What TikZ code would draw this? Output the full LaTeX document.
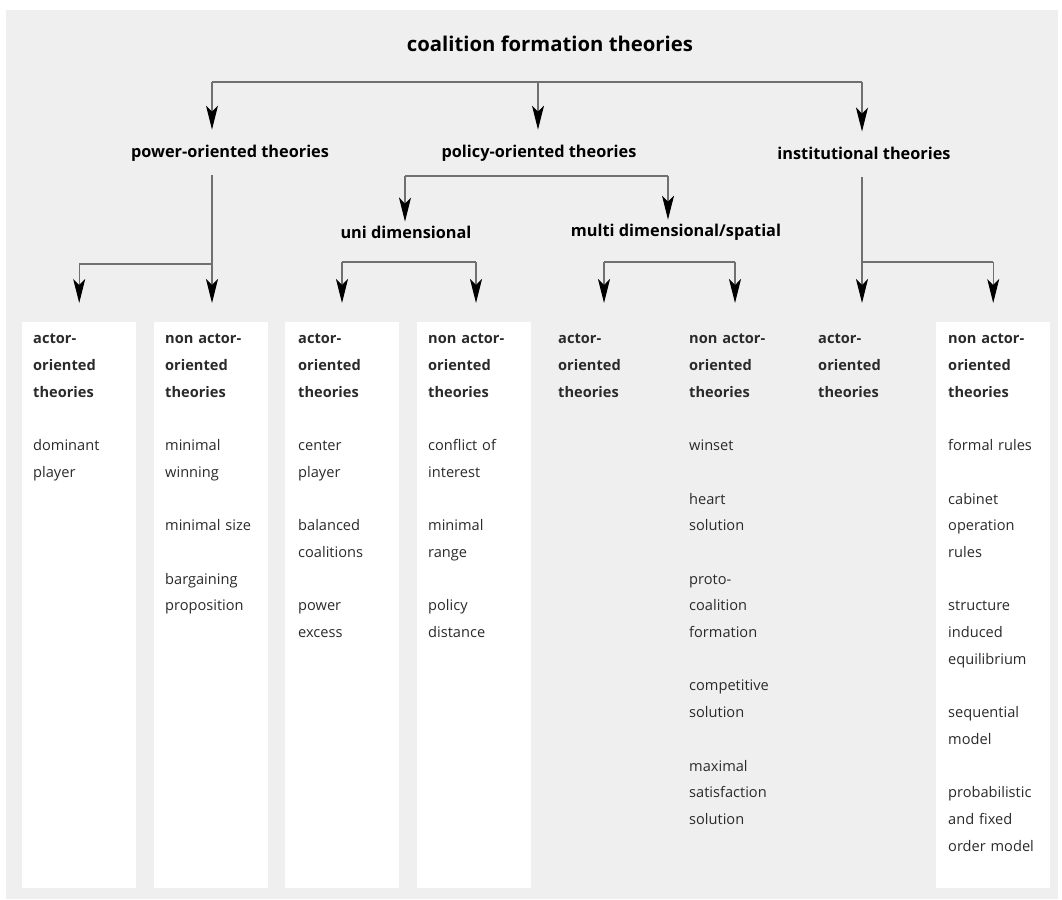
\documentclass[tikz,border=0pt]{standalone}
\usepackage{fontspec}
\setmainfont{Open Sans}
\usetikzlibrary{arrows.meta,calc}
\definecolor{bg}{HTML}{EFEFEF}
\definecolor{ln}{HTML}{707070}
\definecolor{txt}{HTML}{2A2A2A}
\newcommand{\gap}{\\[26.7pt]}
\begin{document}
\begin{tikzpicture}[x=1pt,y=-1pt,
  conn/.style={draw=ln, line width=1.1pt},
  arr/.style={conn, -{Stealth[length=24pt,width=12pt,inset=6pt,black]}},
  lvl/.style={font=\fontsize{16.3}{19}\selectfont\bfseries, text=black, inner sep=0pt},
  colbox/.style={minimum width=114pt, minimum height=566pt, inner sep=0pt, anchor=north west},
  white/.style={fill=white},
  coltext/.style={anchor=north west, inner sep=0pt, align=left, text width=110pt,
     font=\fontsize{14.6}{26.7}\selectfont, text=txt}
]
\useasboundingbox (0,0) rectangle (1062,899);
\fill[white] (0,0) rectangle (1062,899);
\fill[bg] (6,10) rectangle (1058,899);

% columns
\node[colbox,white] (c1) at (22,322) {};
\node[colbox,white] (c2) at (154,322) {};
\node[colbox,white] (c3) at (285,322) {};
\node[colbox,white] (c4) at (417,322) {};
\node[colbox] (c5) at (548,322) {};
\node[colbox] (c6) at (679,322) {};
\node[colbox] (c7) at (804,322) {};
\node[colbox,white] (c8) at (936,322) {};

% titles
\node[font=\fontsize{20.3}{24}\selectfont\bfseries, inner sep=0pt] (top) at (550,44) {coalition formation theories};
\node[lvl] (power) at (230,153) {power-oriented theories};
\node[lvl] (policy) at (539,153) {policy-oriented theories};
\node[lvl] (inst) at (864,153) {institutional theories};
\node[lvl] (uni) at (406,232) {uni dimensional};
\node[lvl] (multi) at (676,232) {multi dimensional/spatial};

% column texts
\node[coltext] (t1) at (33,334) {\textbf{actor-\\oriented\\theories}\gap dominant\\player};
\node[coltext] (t2) at (165,334) {\textbf{non actor-\\oriented\\theories}\gap minimal\\winning\gap minimal size\gap bargaining\\proposition};
\node[coltext] (t3) at (298,334) {\textbf{actor-\\oriented\\theories}\gap center\\player\gap balanced\\coalitions\gap power\\excess};
\node[coltext] (t4) at (428,334) {\textbf{non actor-\\oriented\\theories}\gap conflict of\\interest\gap minimal\\range\gap policy\\distance};
\node[coltext] (t5) at (558,334) {\textbf{actor-\\oriented\\theories}};
\node[coltext] (t6) at (689,334) {\textbf{non actor-\\oriented\\theories}\gap winset\gap heart\\solution\gap proto-\\coalition\\formation\gap competitive\\solution\gap maximal\\satisfaction\\solution};
\node[coltext] (t7) at (818,334) {\textbf{actor-\\oriented\\theories}};
\node[coltext] (t8) at (948,334) {\textbf{non actor-\\oriented\\theories}\gap formal rules\gap cabinet\\operation\\rules\gap structure\\induced\\equilibrium\gap sequential\\model\gap probabilistic\\and fixed\\order model};

% connector coordinates
\coordinate (a1) at (212,82);
\coordinate (a2) at (538,82);
\coordinate (a3) at (862,82);
\coordinate (p0) at (212,175);
\coordinate (pj) at (212,264);
\coordinate (q1) at (405,176);
\coordinate (q2) at (668,176);
\coordinate (u1) at (342,262);
\coordinate (u2) at (476,262);
\coordinate (m1) at (604,262);
\coordinate (m2) at (735,262);
\coordinate (i0) at (862,177);
\coordinate (ij) at (862,262);

% top level
\draw[conn] (a1) -- (a3);
\draw[arr] (a1) -- ($(a1 |- power.north)+(0,-15)$);
\draw[arr] (a2) -- ($(a2 |- policy.north)+(0,-15)$);
\draw[arr] (a3) -- ($(a3 |- inst.north)+(0,-15)$);

% power
\draw[arr] (p0) -- ($(p0 |- c2.north)+(0,-19)$);
\draw[conn] (pj) -- (pj -| c1.north);
\draw[arr] (pj -| c1.north) -- ($(c1.north)+(0,-19)$);

% policy
\draw[conn] (q1) -- (q2);
\draw[arr] (q1) -- ($(q1 |- uni.north)+(0,-4)$);
\draw[arr] (q2) -- ($(q2 |- multi.north)+(0,-4)$);

% uni
\draw[conn] (u1) -- (u2);
\draw[arr] (u1) -- ($(u1 |- c3.north)+(0,-19)$);
\draw[arr] (u2) -- ($(u2 |- c4.north)+(0,-19)$);

% multi
\draw[conn] (m1) -- (m2);
\draw[arr] (m1) -- ($(m1 |- c5.north)+(0,-19)$);
\draw[arr] (m2) -- ($(m2 |- c6.north)+(0,-19)$);

% institutional
\draw[arr] (i0) -- ($(i0 |- c7.north)+(0,-19)$);
\draw[conn] (ij) -- (ij -| c8.north);
\draw[arr] (ij -| c8.north) -- ($(c8.north)+(0,-19)$);
\end{tikzpicture}
\end{document}
